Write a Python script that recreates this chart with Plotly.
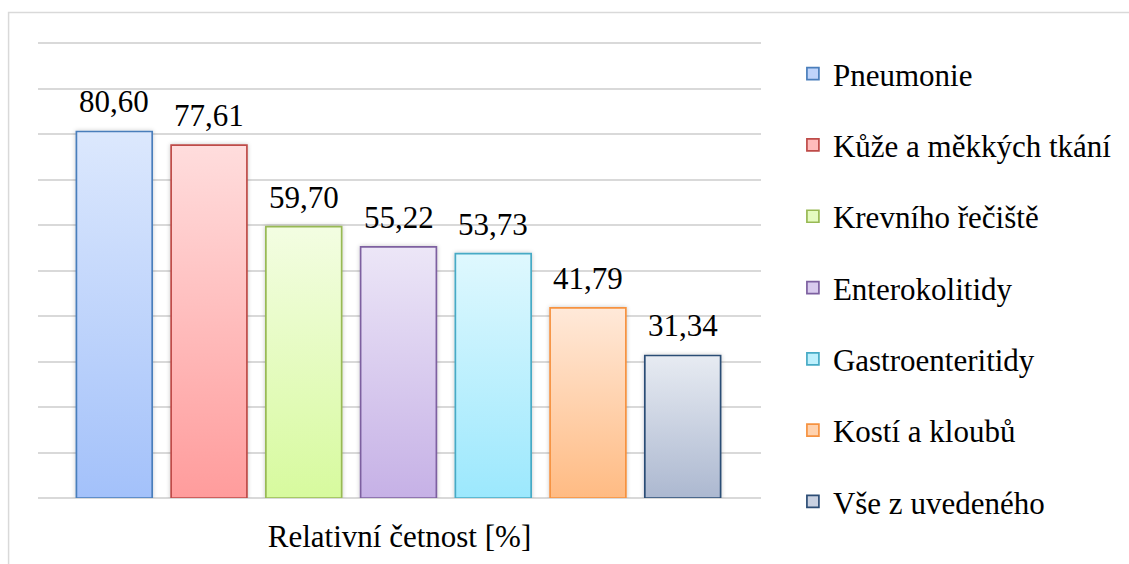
import json
import plotly.graph_objects as go

# Infection types and their relative frequency (%)
categories = [
    "Pneumonie",
    "Kůže a měkkých tkání",
    "Krevního řečiště",
    "Enterokolitidy",
    "Gastroenteritidy",
    "Kostí a kloubů",
    "Vše z uvedeného",
]
values = [80.60, 77.61, 59.70, 55.22, 53.73, 41.79, 31.34]
axis_title = "Relativní četnost [%]"

# Per-bar styling: gradient top/bottom colours and outline colour
grad_top = ["#dce8fd", "#ffdddd", "#f3fde2", "#ece6f7", "#dff8fe", "#ffe9d9", "#e7ebf2"]
grad_bottom = ["#a3c1fa", "#ff9c9c", "#d7fa9e", "#c6b1e6", "#9ce8fd", "#ffbb83", "#acb8d0"]
outline = ["#4a7ebb", "#be4b48", "#98b954", "#7d60a0", "#46aac5", "#f69240", "#2c4d75"]
mid_fill = ["#bfd4fb", "#ffbcbc", "#e5fbc0", "#d9cbee", "#bdf0fd", "#ffd2ae", "#c9d1e1"]

FONT = "Liberation Serif, Times New Roman, serif"
FS = 31
Y_MAX = 100.5  # a little headroom so the gridline at 100 is not clipped

W, H = 1129, 564
M_L, M_R, M_T, M_B = 38, 366, 41, 66
PLOT_W = W - M_L - M_R
PLOT_H = H - M_T - M_B
BASE_Y = H - M_B


def fmt(v):
    return f"{v:.2f}".replace(".", ",")


def px_x(px):
    return (px - M_L) / PLOT_W


def px_y(py):
    return (BASE_Y - py) / PLOT_H


fig = go.Figure()
for i, (cat, val) in enumerate(zip(categories, values)):
    fig.add_trace(go.Bar(
        x=[cat], y=[val], name=cat,
        width=0.8,
        marker=dict(color=mid_fill[i], line=dict(color=outline[i], width=1.7)),
        legendgroup=f"g{i}",
        hoverinfo="name+y",
    ))
    fig.add_annotation(
        x=cat, y=val, text=fmt(val), showarrow=False,
        yanchor="bottom", yshift=10,
        font=dict(family=FONT, size=FS, color="#000000"),
    )

# Light frame around the chart area
fig.add_shape(
    type="rect", xref="paper", yref="paper",
    x0=px_x(8.5), x1=px_x(1140),
    y0=px_y(580), y1=px_y(12.5),
    line=dict(color="#d9d9d9", width=1.5), fillcolor="rgba(0,0,0,0)",
    layer="below",
)

fig.update_layout(
    width=W, height=H,
    margin=dict(l=M_L, r=M_R, t=M_T, b=M_B),
    paper_bgcolor="white", plot_bgcolor="white",
    barmode="overlay",
    showlegend=True,
    legend=dict(
        x=px_x(795), xanchor="left",
        y=px_y(47), yanchor="top",
        maxheight=560,
        font=dict(family=FONT, size=FS, color="#000000"),
        traceorder="grouped", tracegroupgap=28,
        bgcolor="rgba(0,0,0,0)", borderwidth=0,
        itemclick=False, itemdoubleclick=False,
    ),
    xaxis=dict(
        range=[-0.8053, 6.8263], showticklabels=False, showgrid=False,
        zeroline=False, showline=False, ticks="",
        title=dict(text=axis_title, standoff=27,
                   font=dict(family=FONT, size=FS, color="#000000")),
    ),
    yaxis=dict(
        range=[0, Y_MAX], dtick=10, showticklabels=False,
        showgrid=True, gridcolor="#d9d9d9", gridwidth=1.8,
        zeroline=True, zerolinecolor="#d9d9d9", zerolinewidth=1.8,
        showline=False, ticks="",
    ),
    font=dict(family=FONT, size=FS, color="#000000"),
)

# Vertical gradient fills and soft shadows for bars and legend swatches
post_js = """
var gd = document.getElementById('{plot_id}');
var TOP = __TOP__, BOT = __BOT__;
var NS = 'http://www.w3.org/2000/svg';
function ensureDefs() {
  if (document.getElementById('barGrad0')) return true;
  var svg = gd.querySelector('svg.main-svg');
  if (!svg) return false;
  var defs = svg.querySelector('defs');
  if (!defs) { defs = document.createElementNS(NS, 'defs'); svg.insertBefore(defs, svg.firstChild); }
  for (var i = 0; i < TOP.length; i++) {
    var g = document.createElementNS(NS, 'linearGradient');
    g.setAttribute('id', 'barGrad' + i);
    g.setAttribute('x1', '0'); g.setAttribute('y1', '0');
    g.setAttribute('x2', '0'); g.setAttribute('y2', '1');
    var s0 = document.createElementNS(NS, 'stop');
    s0.setAttribute('offset', '0'); s0.setAttribute('stop-color', TOP[i]);
    var s1 = document.createElementNS(NS, 'stop');
    s1.setAttribute('offset', '1'); s1.setAttribute('stop-color', BOT[i]);
    g.appendChild(s0); g.appendChild(s1);
    defs.appendChild(g);
  }
  var f = document.createElementNS(NS, 'filter');
  f.setAttribute('id', 'barShadow');
  f.setAttribute('x', '-20%'); f.setAttribute('y', '-10%');
  f.setAttribute('width', '140%'); f.setAttribute('height', '120%');
  var ds = document.createElementNS(NS, 'feDropShadow');
  ds.setAttribute('dx', '0'); ds.setAttribute('dy', '0');
  ds.setAttribute('stdDeviation', '2.2');
  ds.setAttribute('flood-color', '#000'); ds.setAttribute('flood-opacity', '0.22');
  f.appendChild(ds);
  defs.appendChild(f);
  return true;
}
function traceIndex(el, fallback) {
  var d = el.__data__;
  if (d && d[0] && d[0].trace && d[0].trace.index !== undefined) return d[0].trace.index;
  return fallback;
}
function styleBars() {
  if (!ensureDefs()) return;
  gd.querySelectorAll('.barlayer .trace').forEach(function (t, i) {
    var k = traceIndex(t, i);
    t.querySelectorAll('path').forEach(function (p) {
      p.style.fill = 'url(#barGrad' + k + ')';
      p.setAttribute('filter', 'url(#barShadow)');
    });
  });
  gd.querySelectorAll('.legend .traces').forEach(function (t, i) {
    var k = traceIndex(t, i);
    t.querySelectorAll('path.legendbar').forEach(function (p) {
      p.setAttribute('d', 'M8,8H-8V-8H8Z');
      p.style.fill = 'url(#barGrad' + k + ')';
    });
  });
}
styleBars();
if (gd.on) gd.on('plotly_afterplot', styleBars);
setTimeout(styleBars, 50);
""".replace("__TOP__", json.dumps(grad_top)).replace("__BOT__", json.dumps(grad_bottom))

fig.write_html("out.html", post_script=post_js, config={"displayModeBar": False})
